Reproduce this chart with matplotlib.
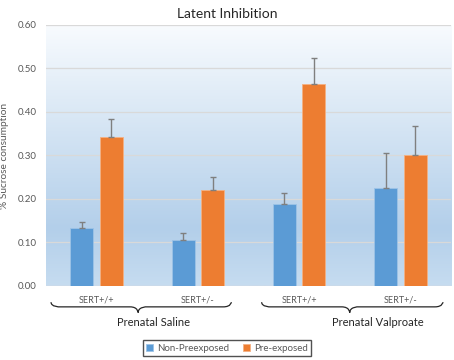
import numpy as np
import matplotlib
matplotlib.use("Agg")
import matplotlib.pyplot as plt
from matplotlib.colors import LinearSegmentedColormap
from matplotlib.path import Path
from matplotlib.patches import PathPatch
import matplotlib.transforms as mtransforms

plt.rcParams['font.family'] = ['Lato', 'DejaVu Sans']

# data
genotypes = ["SERT+/+", "SERT+/-", "SERT+/+", "SERT+/-"]
non_preexposed = [0.133, 0.105, 0.188, 0.225]
non_preexposed_err = [0.015, 0.017, 0.026, 0.080]
pre_exposed = [0.343, 0.220, 0.465, 0.300]
pre_exposed_err = [0.040, 0.031, 0.060, 0.067]
treatments = ["Prenatal Saline", "Prenatal Valproate"]
yticks = [0.0, 0.1, 0.2, 0.3, 0.4, 0.5, 0.6]

blue = "#5b9bd5"
orange = "#ed7d31"
grey_txt = "#595959"

fig = plt.figure(figsize=(4.54, 3.6), dpi=100)
ax = fig.add_axes([0.1013, 0.2056, 0.8921, 0.725])

# gradient background
cmap = LinearSegmentedColormap.from_list(
    "bg", [(0.0, "#c6dcf0"), (0.22, "#b3cfea"), (1.0, "#f8fbfe")])
grad = np.linspace(0, 1, 256).reshape(-1, 1)
ax.imshow(grad, cmap=cmap, aspect="auto", origin="lower",
          extent=[0, 1, 0, 1], transform=ax.transAxes, zorder=0)

x = np.arange(len(genotypes))
w = 0.227
off = 0.145
err_kw = dict(ecolor="#7f7f7f", elinewidth=1.0, capsize=2.5, capthick=1.0)
ax.bar(x - off, non_preexposed, w, color=blue, edgecolor="#9dc3e6",
       linewidth=0.6, zorder=3, label="Non-Preexposed")
ax.bar(x + off, pre_exposed, w, color=orange, edgecolor="#f4b183",
       linewidth=0.6, zorder=3, label="Pre-exposed")
ax.errorbar(x - off, non_preexposed, yerr=[np.zeros(4), non_preexposed_err],
            fmt="none", zorder=4, **err_kw)
ax.errorbar(x + off, pre_exposed, yerr=[np.zeros(4), pre_exposed_err],
            fmt="none", zorder=4, **err_kw)

ax.set_xlim(-0.5, 3.5)
ax.set_ylim(0, 0.6)
ax.set_yticks(yticks)
ax.set_yticklabels([f"{v:.2f}" for v in yticks], fontsize=7, color=grey_txt)
ax.set_xticks(x)
ax.set_xticklabels(genotypes, fontsize=6.5, color=grey_txt)
ax.tick_params(length=0, pad=7)
ax.grid(axis="y", color="#d9d9d9", linewidth=0.9, zorder=1)
ax.set_axisbelow(True)
for s in ax.spines.values():
    s.set_visible(False)
ax.axhline(0, color="#d9d9d9", linewidth=0.9, zorder=2)

ax.set_ylabel("% Sucrose consumption", fontsize=7.3, color=grey_txt, labelpad=6)
fig.text(0.5, 0.977, "Latent Inhibition", ha="center", va="top",
         fontsize=10, color="#262626")

# braces under the groups
trans = mtransforms.blended_transform_factory(ax.transData, ax.transAxes)

def brace(x0, x1, tip, y0=-0.062, y1=-0.080, y2=-0.102, a=0.08):
    verts = [(x0, y0),
             (x0, y1), (x0 + a, y1), (x0 + a, y1),
             (tip - a, y1),
             (tip, y1), (tip, y2), (tip, y2),
             (tip, y1), (tip + a, y1), (tip + a, y1),
             (x1 - a, y1),
             (x1, y1), (x1, y0), (x1, y0)]
    codes = [Path.MOVETO,
             Path.CURVE4, Path.CURVE4, Path.CURVE4,
             Path.LINETO,
             Path.CURVE4, Path.CURVE4, Path.CURVE4,
             Path.CURVE4, Path.CURVE4, Path.CURVE4,
             Path.LINETO,
             Path.CURVE4, Path.CURVE4, Path.CURVE4]
    p = PathPatch(Path(verts, codes), transform=trans, fill=False,
                  edgecolor="#262626", linewidth=0.9, clip_on=False)
    ax.add_patch(p)

brace(-0.45, 1.33, 0.41)
brace(1.63, 3.42, 2.50)
ax.text(0.56, -0.138, treatments[0], transform=trans, ha="center",
        va="center", fontsize=8, color="#262626")
ax.text(2.78, -0.138, treatments[1], transform=trans, ha="center",
        va="center", fontsize=8, color="#262626")

leg = fig.legend(loc="center", bbox_to_anchor=(0.5, 0.033), ncol=2,
                 fontsize=7, frameon=True, fancybox=False, handlelength=0.7,
                 handleheight=0.7, handletextpad=0.4, columnspacing=1.5,
                 borderpad=0.35, labelcolor=grey_txt)
leg.get_frame().set_edgecolor("#262626")
leg.get_frame().set_linewidth(1.0)

fig.savefig("out.png", dpi=100)
